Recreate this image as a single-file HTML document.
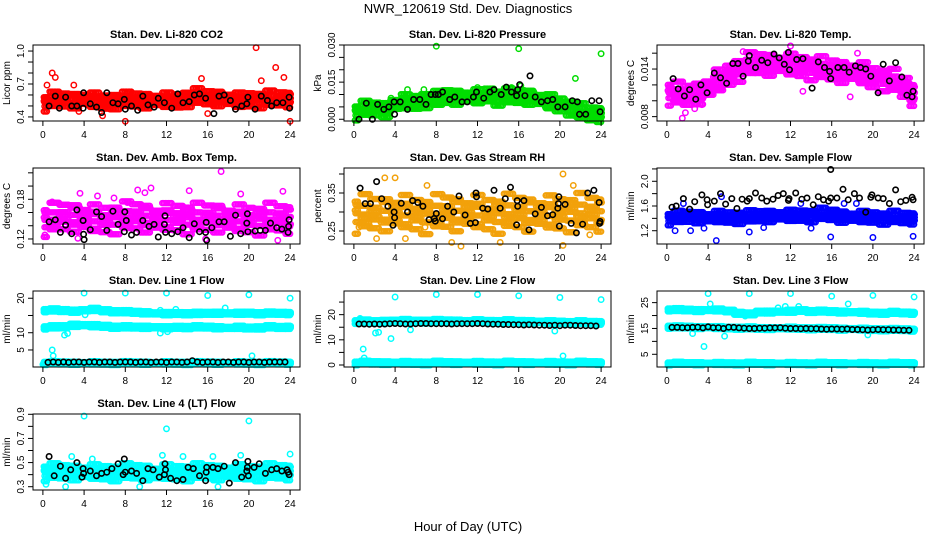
<!DOCTYPE html>
<html><head><meta charset="utf-8"><style>
body{margin:0;background:#fff;}
svg{display:block;font-family:"Liberation Sans",Arial,sans-serif;}
</style></head><body>
<svg id="chart" width="936" height="540" viewBox="0 0 936 540" xmlns="http://www.w3.org/2000/svg">
<rect width="936" height="540" fill="#fff"/>
<text x="468" y="13" text-anchor="middle" font-size="13">NWR_120619  Std. Dev. Diagnostics</text>
<text x="468" y="531" text-anchor="middle" font-size="13">Hour of Day (UTC)</text>
</svg>
<script>
// ---------- data ----------
const hourTicks = [0,4,8,12,16,20,24];
const hours = [0,1,2,3,4,5,6,7,8,9,10,11,12,13,14,15,16,17,18,19,20,21,22,23,24];

const co2Cloud = [0.53,0.55,0.55,0.55,0.56,0.55,0.54,0.55,0.55,0.55,0.55,0.55,0.55,0.55,0.57,0.58,0.57,0.57,0.56,0.55,0.56,0.56,0.56,0.56,0.56];
const co2Out = [[0.4,0.69],[0.9,0.8],[1.2,0.76],[3.0,0.69],[5.8,0.41],[8,0.36],[15.4,0.75],[20.7,1.03],[21.2,0.73],[22.6,0.85],[23.4,0.76],[24,0.36],[16,0.43],[3.5,0.45]];
const co2Black = [[0.6,0.5],[1.2,0.59],[1.6,0.48],[2.2,0.58],[2.8,0.5],[3.3,0.5],[3.9,0.48],[3.95,0.62],[4.6,0.52],[5.2,0.49],[5.7,0.44],[6.2,0.62],[6.8,0.53],[7.3,0.52],[7.9,0.56],[8,0.47],[8.6,0.5],[9.2,0.46],[9.7,0.59],[10.2,0.51],[10.8,0.49],[11.2,0.57],[11.8,0.53],[12.5,0.48],[13.1,0.61],[13.6,0.53],[14.2,0.54],[14.7,0.6],[15.2,0.61],[15.8,0.57],[16.6,0.43],[17.1,0.59],[17.6,0.6],[18.2,0.55],[18.7,0.47],[19.3,0.5],[19.8,0.52],[19.9,0.58],[20.6,0.47],[21.2,0.59],[21.8,0.55],[22.2,0.5],[22.7,0.53],[23.3,0.53],[23.9,0.58],[23.95,0.48]];

const presCloud = [0.003,0.004,0.004,0.004,0.006,0.007,0.007,0.008,0.008,0.009,0.009,0.009,0.009,0.010,0.009,0.009,0.009,0.009,0.008,0.007,0.006,0.005,0.003,0.002,0.002];
const presOut = [[8,0.0295],[16,0.0285],[24,0.0265],[21.5,0.0165],[12,0.0128],[15.3,0.0128],[16.2,0.0135],[5.2,0.012],[6.8,0.012],[3.6,0.0085]];
const presBlack = [[0.5,0.0],[1.2,0.0065],[1.8,0.0],[2.3,0.006],[2.9,0.004],[3.4,0.005],[3.9,0.007],[3.95,0.002],[4.5,0.007],[5.2,0.004],[5.8,0.008],[6.4,0.008],[7.0,0.006],[7.5,0.01],[7.9,0.01],[8.2,0.01],[8.6,0.011],[9.3,0.008],[9.8,0.009],[10.5,0.007],[11.0,0.007],[11.6,0.009],[11.9,0.011],[12.6,0.0085],[13.2,0.011],[13.6,0.012],[14.3,0.01],[14.8,0.013],[15.3,0.011],[15.8,0.0095],[15.9,0.012],[16.1,0.014],[16.6,0.0095],[17.1,0.0175],[17.6,0.009],[18.2,0.007],[18.8,0.0075],[19.3,0.008],[19.8,0.005],[20.5,0.005],[21.2,0.0075],[21.7,0.007],[21.9,0.002],[22.5,0.002],[23.1,0.0075],[23.8,0.0075],[23.9,0.003]];

const tempCloud = [0.0110,0.0108,0.0106,0.0110,0.0116,0.0125,0.0133,0.0140,0.0145,0.0146,0.0146,0.0146,0.0145,0.0144,0.0142,0.0140,0.0138,0.0137,0.0136,0.0134,0.0130,0.0128,0.0124,0.0116,0.0108];
const tempOut = [[1.5,0.0078],[12,0.0169],[7.4,0.0162],[18.5,0.016],[13.2,0.0112],[17.8,0.0105],[2.7,0.009],[3.4,0.0095],[1.8,0.0085]];
const tempBlack = [[0.6,0.0128],[1.1,0.0115],[1.7,0.0106],[2.2,0.0114],[2.8,0.0102],[3.3,0.012],[3.9,0.011],[4.6,0.0135],[5.2,0.0129],[5.8,0.0122],[6.4,0.0147],[6.9,0.0147],[7.4,0.0131],[7.9,0.015],[8.0,0.0157],[8.6,0.0142],[9.2,0.0151],[9.8,0.0148],[10.4,0.0159],[10.9,0.0154],[11.4,0.0146],[11.8,0.0161],[11.9,0.0139],[12.6,0.0152],[13.2,0.0153],[14.1,0.0116],[14.7,0.0149],[15.3,0.0142],[15.8,0.0137],[15.9,0.0128],[16.6,0.0142],[17.2,0.0142],[17.7,0.0136],[18.3,0.0144],[18.8,0.0142],[19.3,0.014],[19.8,0.0131],[20.5,0.011],[21.0,0.0146],[21.6,0.0125],[22.2,0.0148],[22.8,0.013],[23.3,0.0107],[23.8,0.0105],[23.9,0.0112]];

const ambCloud = [0.148,0.150,0.152,0.153,0.151,0.150,0.150,0.152,0.152,0.153,0.152,0.150,0.152,0.153,0.152,0.150,0.151,0.152,0.150,0.150,0.150,0.150,0.150,0.150,0.150];
const ambOut = [[17.3,0.222],[10.5,0.197],[9.2,0.194],[14.2,0.193],[23.3,0.192],[3.6,0.189],[19.2,0.188],[0.9,0.176],[1.7,0.172],[5.3,0.185],[8.2,0.175],[15.8,0.12],[22.8,0.118],[3.4,0.121],[0.2,0.126],[9.9,0.19],[6.9,0.182]];
const ambBlack = [[0.6,0.146],[1.2,0.149],[1.7,0.13],[2.2,0.141],[2.8,0.128],[3.3,0.164],[3.9,0.148],[3.95,0.127],[4.0,0.119],[4.6,0.134],[5.2,0.161],[5.7,0.154],[6.2,0.133],[6.8,0.162],[7.3,0.142],[7.9,0.131],[7.95,0.161],[8.1,0.148],[8.6,0.126],[9.1,0.13],[9.7,0.148],[10.3,0.139],[10.8,0.142],[11.2,0.123],[11.8,0.142],[11.85,0.155],[11.9,0.13],[12.5,0.128],[13.1,0.131],[13.6,0.137],[14.2,0.122],[14.7,0.143],[15.2,0.131],[15.8,0.13],[15.85,0.145],[15.9,0.118],[16.4,0.137],[17.1,0.146],[17.6,0.146],[18.2,0.124],[18.7,0.156],[19.2,0.128],[19.8,0.144],[19.85,0.158],[19.9,0.131],[20.6,0.132],[21.1,0.133],[21.6,0.133],[22.1,0.144],[22.7,0.137],[23.2,0.135],[23.8,0.13],[23.85,0.139],[23.9,0.149]];

const rhCloud = [0.295,0.295,0.293,0.296,0.297,0.298,0.296,0.294,0.295,0.297,0.296,0.296,0.298,0.296,0.295,0.296,0.296,0.295,0.296,0.297,0.298,0.299,0.298,0.296,0.295];
const rhOut = [[3,0.39],[4,0.39],[20.3,0.4],[21.3,0.37],[9.5,0.22],[10.4,0.21],[20.3,0.212],[14.2,0.22],[7.1,0.37],[0.5,0.26],[6.9,0.26],[2.2,0.23],[5.0,0.23],[22.9,0.24]];
const rhBlack = [[0.6,0.363],[1.1,0.322],[1.6,0.322],[2.2,0.38],[2.7,0.335],[3.3,0.315],[3.9,0.3],[3.95,0.285],[3.8,0.265],[4.6,0.323],[5.2,0.3],[5.7,0.33],[6.2,0.325],[6.7,0.315],[7.3,0.28],[7.8,0.283],[7.9,0.276],[8.0,0.296],[8.6,0.282],[9.1,0.315],[9.7,0.3],[10.2,0.342],[10.8,0.292],[11.3,0.27],[11.8,0.272],[11.85,0.35],[11.9,0.34],[12.5,0.31],[13.0,0.308],[13.6,0.357],[14.2,0.31],[14.7,0.335],[15.2,0.365],[15.8,0.266],[15.85,0.33],[15.9,0.315],[16.5,0.33],[17.0,0.253],[17.6,0.295],[18.2,0.312],[18.8,0.29],[19.3,0.293],[19.8,0.31],[19.85,0.322],[19.9,0.34],[19.95,0.263],[20.5,0.32],[21.1,0.27],[21.6,0.245],[22.2,0.268],[22.7,0.35],[23.3,0.357],[23.8,0.325],[23.85,0.27],[23.9,0.275]];

const flowCloud = [1.40,1.41,1.42,1.42,1.41,1.42,1.42,1.42,1.42,1.43,1.44,1.44,1.44,1.45,1.45,1.46,1.45,1.43,1.42,1.42,1.42,1.41,1.41,1.40,1.40];
const flowOut = [[4.8,1.04],[15.9,1.1],[20,1.09],[23.9,1.11],[0.8,1.2],[2.3,1.2],[8,1.18],[3.6,1.24],[5.3,1.75],[1.6,1.64],[17.2,1.64],[18.4,1.64],[13,1.64],[9.4,1.25],[14,1.24]];
const flowBlack = [[0.5,1.58],[0.9,1.6],[1.6,1.72],[2.2,1.55],[2.7,1.67],[3.4,1.78],[3.9,1.7],[3.95,1.62],[4.6,1.68],[5.2,1.8],[5.7,1.63],[6.3,1.72],[6.8,1.56],[7.3,1.71],[7.8,1.68],[8.0,1.72],[8.6,1.81],[9.2,1.73],[9.7,1.68],[10.3,1.71],[10.8,1.77],[11.3,1.8],[11.8,1.69],[11.85,1.72],[12.5,1.81],[13.1,1.71],[13.6,1.73],[14.2,1.62],[14.7,1.75],[15.2,1.7],[15.7,1.68],[15.9,1.73],[16.5,1.73],[17.1,1.87],[17.6,1.7],[18.2,1.8],[18.7,1.73],[19.3,1.5],[19.8,1.74],[19.9,1.78],[20.5,1.73],[21.0,1.72],[21.6,1.64],[22.2,1.86],[22.7,1.67],[23.2,1.69],[23.8,1.74],[23.9,1.7],[15.9,2.19]];

const l1High = [16.5,16.5,16.4,16.3,16.5,16.7,16.4,16.2,16.0,15.9,15.8,15.6,15.5,15.6,15.6,15.5,15.6,15.7,15.6,15.6,15.7,15.6,15.6,15.6,15.6];
const l1Mid = [11.5,11.6,11.7,12.2,12.2,12.0,11.9,11.7,11.6,11.6,11.6,11.6,11.4,11.6,11.6,11.6,11.6,11.5,11.4,11.5,11.4,11.5,11.6,11.5,11.6];
const l1Low = [1.2,1.2,1.2,1.2,1.2,1.2,1.2,1.2,1.2,1.2,1.2,1.2,1.2,1.2,1.2,1.2,1.2,1.2,1.2,1.2,1.2,1.2,1.2,1.2,1.2];
const l1Out = [[4,21.5],[8,21.5],[12,21.5],[16,20.8],[20,21],[24,20],[0.9,5],[1.0,3.3],[2.1,9.3],[2.4,9.8],[20.3,3.3],[11.4,9.9],[12.1,10.3],[17.7,17.2],[0.0,0.8],[4.1,15.2],[11.4,16.5],[12.9,16.8]];
const l1Black = [1.4,1.5,1.4,1.5,1.4,1.5,1.5,1.4,1.5,1.5,1.4,1.5,1.5,1.4,1.5,1.5,1.5,1.4,1.5,1.5,1.4,1.5,1.5,1.4,1.5,1.5,1.4,1.5,1.9,1.5,1.4,1.5,1.5,1.4,1.5,1.5,1.4,1.5,1.5,1.4,1.5,1.5,1.4,1.5,1.5,1.5,1.5];

const l2High = [17.2,17.2,17.1,17.3,17.5,17.5,17.4,17.4,17.4,17.4,17.4,17.4,17.4,17.3,17.3,17.3,17.2,17.2,17.1,17.0,17.0,16.9,16.9,16.8,16.8];
const l2Low = [0.8,0.8,0.8,0.8,0.8,0.8,0.8,0.8,0.8,0.8,0.8,0.8,0.8,0.8,0.8,0.8,0.8,0.8,0.8,0.8,0.8,0.8,0.8,0.8,0.8];
const l2Out = [[4,27],[8,28],[12,28],[16,27.5],[20,26.8],[24,26],[0.9,6.3],[1,2.8],[2.1,12.7],[2.4,13],[3.6,10.5],[5.5,14],[19.5,13.5],[20.3,3.6],[0.6,18.5]];
const l2Black = [16.3,16.3,16.2,16.3,16.2,16.3,16.4,16.5,16.4,16.3,16.3,16.4,16.5,16.5,16.4,16.4,16.4,16.4,16.3,16.4,16.4,16.4,16.4,16.5,16.4,16.3,16.2,16.2,16.1,16.1,16.0,16.0,15.9,16.0,15.9,15.8,15.8,15.7,15.8,15.6,15.8,15.8,15.7,15.6,15.6,15.6,15.5];

const l3High = [22.3,22.2,22.1,22.0,22.1,22.1,21.8,21.0,20.5,21.3,21.4,21.5,21.6,22.0,21.7,21.6,21.5,21.4,21.3,21.2,21.0,21.0,21.1,21.0,20.9];
const l3Mid = [15.6,15.5,15.5,15.4,15.5,15.3,15.2,15.2,15.1,15.0,15.0,15.1,15.1,15.0,15.0,14.9,14.9,14.8,14.8,14.7,14.6,14.6,14.5,14.5,14.4];
const l3Low = [1.4,1.4,1.4,1.4,1.4,1.4,1.4,1.4,1.4,1.4,1.4,1.4,1.4,1.4,1.4,1.4,1.4,1.4,1.4,1.4,1.4,1.4,1.4,1.4,1.4];
const l3Out = [[4,28.5],[8,28.5],[12,28.5],[16,27.5],[20,27.8],[24,27.2],[3.6,8],[5.6,12],[2.5,13],[19.5,12.5],[4.2,24.5],[17.6,24.5],[10.8,23],[11.5,23.5],[12.8,23.5],[7.6,19.8]];
const l3Black = [15.4,15.4,15.3,15.3,15.4,15.5,15.2,15.6,15.3,15.3,15.0,15.5,15.4,15.2,15.1,15.0,15.0,15.1,15.1,15.2,15.2,15.3,15.1,15.0,15.0,14.9,15.0,14.9,14.9,14.8,14.7,14.8,14.8,14.7,14.8,14.6,14.6,14.5,14.4,14.5,14.6,14.5,14.5,14.4,14.4,14.3,14.3];

const l4Cloud = [0.42,0.42,0.42,0.42,0.42,0.42,0.42,0.42,0.42,0.42,0.42,0.41,0.42,0.42,0.42,0.42,0.42,0.42,0.42,0.42,0.42,0.42,0.42,0.42,0.42];
const l4Out = [[4,0.885],[12,0.78],[20,0.845],[24,0.57],[11.6,0.56],[2.8,0.55],[19.2,0.56],[0.3,0.32],[2.2,0.3],[17,0.3],[9.4,0.3],[13.6,0.55],[16.5,0.55],[4.8,0.53]];
const l4Black = [[0.6,0.55],[1.1,0.39],[1.7,0.47],[2.2,0.37],[2.7,0.44],[3.3,0.5],[3.9,0.45],[3.95,0.41],[3.8,0.38],[4.6,0.43],[5.2,0.39],[5.7,0.41],[6.2,0.42],[6.7,0.45],[7.3,0.49],[7.8,0.4],[7.9,0.53],[8.0,0.42],[8.6,0.43],[9.1,0.41],[9.7,0.35],[10.2,0.45],[10.7,0.44],[11.3,0.38],[11.8,0.4],[11.85,0.49],[11.9,0.44],[12.4,0.37],[13.0,0.35],[13.6,0.36],[14.1,0.46],[14.6,0.45],[15.2,0.39],[15.8,0.35],[15.85,0.42],[15.9,0.46],[16.5,0.46],[17.0,0.45],[17.6,0.47],[18.1,0.33],[18.7,0.5],[19.3,0.38],[19.8,0.43],[19.85,0.46],[19.9,0.51],[19.95,0.39],[20.5,0.46],[21.0,0.49],[21.6,0.41],[22.2,0.44],[22.7,0.45],[23.2,0.43],[23.7,0.44],[23.8,0.42],[23.9,0.4]];

// ---------- drawing ----------
const NS = "http://www.w3.org/2000/svg";
const svg = document.getElementById('chart');
function mk(tag, attrs, parent){ const e=document.createElementNS(NS,tag); for(const k in attrs) e.setAttribute(k,attrs[k]); (parent||svg).appendChild(e); return e; }

const colX = [33,344,657], rowY = [45,168,291,414], BW = 267, BH = 76;
const panels = [
 {name:'co2',title:'Stan. Dev. Li-820 CO2',ylab:'Licor ppm',col:0,row:0,ymin:0.363,ymax:1.055,ticks:[0.4,0.5,0.6,0.7,0.8,0.9,1.0],labels:['0.4','0.7','1.0'],lv:[0.4,0.7,1.0],color:'#ff0000',clouds:[co2Cloud],spread:0.065,out:co2Out,black:co2Black},
 {name:'pressure',title:'Stan. Dev. Li-820 Pressure',ylab:'kPa',col:1,row:0,ymin:-0.0007,ymax:0.0300,ticks:[0,0.005,0.01,0.015,0.02,0.025,0.03],labels:['0.000','0.015','0.030'],lv:[0,0.015,0.03],color:'#00dd00',clouds:[presCloud],spread:0.0028,out:presOut,black:presBlack},
 {name:'li820-temp',title:'Stan. Dev. Li-820 Temp.',ylab:'degrees C',col:2,row:0,ymin:0.00745,ymax:0.01703,ticks:[0.008,0.010,0.012,0.014,0.016],labels:['0.008','0.014'],lv:[0.008,0.014],color:'#ff00ff',clouds:[tempCloud],spread:0.0013,out:tempOut,black:tempBlack},
 {name:'amb-box-temp',title:'Stan. Dev. Amb. Box Temp.',ylab:'degrees C',col:0,row:1,ymin:0.1124,ymax:0.2273,ticks:[0.12,0.14,0.16,0.18,0.20,0.22],labels:['0.12','0.18'],lv:[0.12,0.18],color:'#ff00ff',clouds:[ambCloud],spread:0.02,out:ambOut,black:ambBlack},
 {name:'gas-stream-rh',title:'Stan. Dev. Gas Stream RH',ylab:'percent',col:1,row:1,ymin:0.2158,ymax:0.4158,ticks:[0.25,0.30,0.35,0.40],labels:['0.25','0.35'],lv:[0.25,0.35],color:'#f2a10a',clouds:[rhCloud],spread:0.042,out:rhOut,black:rhBlack},
 {name:'sample-flow',title:'Stan. Dev. Sample Flow',ylab:'ml/min',col:2,row:1,ymin:0.985,ymax:2.215,ticks:[1.2,1.4,1.6,1.8,2.0,2.2],labels:['1.2','1.6','2.0'],lv:[1.2,1.6,2.0],color:'#0000ff',clouds:[flowCloud],spread:0.09,out:flowOut,black:flowBlack},
 {name:'line1-flow',title:'Stan. Dev. Line 1 Flow',ylab:'ml/min',col:0,row:2,ymin:0.06,ymax:22.1,ticks:[5,10,15,20],labels:['5','10','20'],lv:[5,10,20],color:'#00ffff',clouds:[l1High,l1Mid,l1Low],spread:0.45,out:l1Out,blackSeries:l1Black},
 {name:'line2-flow',title:'Stan. Dev. Line 2 Flow',ylab:'ml/min',col:1,row:2,ymin:-0.8,ymax:29.4,ticks:[0,5,10,15,20,25],labels:['0','10','20'],lv:[0,10,20],color:'#00ffff',clouds:[l2High,l2Low],spread:0.7,out:l2Out,blackSeries:l2Black},
 {name:'line3-flow',title:'Stan. Dev. Line 3 Flow',ylab:'ml/min',col:2,row:2,ymin:0.08,ymax:29.5,ticks:[5,10,15,20,25],labels:['5','15','25'],lv:[5,15,25],color:'#00ffff',clouds:[l3High,l3Mid,l3Low],spread:0.55,out:l3Out,blackSeries:l3Black},
 {name:'line4-flow',title:'Stan. Dev. Line 4 (LT) Flow',ylab:'ml/min',col:0,row:3,ymin:0.2727,ymax:0.9025,ticks:[0.3,0.4,0.5,0.6,0.7,0.8,0.9],labels:['0.3','0.5','0.7','0.9'],lv:[0.3,0.5,0.7,0.9],color:'#00ffff',clouds:[l4Cloud],spread:0.06,out:l4Out,black:l4Black}
];

const dxs=[-0.45,-0.3,-0.15,0,0.15,0.3,0.45];
const fs=[-1,-0.6,-0.2,0.2,0.6,1];

panels.forEach(p=>{
  const L=colX[p.col], T=rowY[p.row];
  const xS = h => L + (h+0.96)/25.92*BW;
  const yS = v => T + BH - (v-p.ymin)/(p.ymax-p.ymin)*BH;
  const g = mk('g',{});
  
  
  const t = mk('text',{x:L+BW/2,y:T-7,'text-anchor':'middle','font-size':'11','font-weight':'bold'},g);
  t.textContent=p.title;
  
  
  const cg = mk('g',{fill:'none',stroke:p.color,'stroke-width':'1.5'},g);
  
  
  p.clouds.forEach(arr=>{
    arr.forEach((c,i)=>{
      const h=hours[i];
      dxs.forEach((dx,j)=>{
        const x=h+dx+(((i*3+j*5)%5)-2)*0.03; if(x<0||x>24) return;
        fs.forEach((f,k)=>{
          const ff = f*0.85 + (((j*7+k*3+i*5)%7)-3)*0.13;
          mk('circle',{cx:xS(x+((k%2)?0.07:0)).toFixed(1),cy:yS(c+p.spread*ff).toFixed(1),r:'2.5'},cg);
        });
      });
    });
  });
  const og = mk('g',{fill:'none',stroke:p.color,'stroke-width':'1.5'},g);
  
  
  p.out.forEach(d=>mk('circle',{cx:xS(d[0]).toFixed(1),cy:yS(d[1]).toFixed(1),r:'2.7'},og));
  const bg = mk('g',{fill:'none',stroke:'#000','stroke-width':'1.6'},g);
  
  
  if(p.black) p.black.forEach(d=>mk('circle',{cx:xS(d[0]).toFixed(1),cy:yS(d[1]).toFixed(1),r:'2.7'},bg));
  if(p.blackSeries) p.blackSeries.forEach((v,i)=>mk('circle',{cx:xS(0.5+i*0.5).toFixed(1),cy:yS(v).toFixed(1),r:'2.7'},bg));
  const box = mk('rect',{x:L,y:T,width:BW,height:BH,fill:'none',stroke:'#000','stroke-width':'1'},g);
  
  
  const xa = mk('g',{},g);
  
  
  hourTicks.forEach(h=>{
    mk('line',{x1:xS(h),x2:xS(h),y1:T+BH,y2:T+BH+5,stroke:'#000'},xa);
    const lt=mk('text',{x:xS(h),y:T+BH+17,'text-anchor':'middle','font-size':'10'},xa);
    lt.textContent=h;
  });
  const ya = mk('g',{},g);
  
  
  p.ticks.forEach(v=>mk('line',{x1:L-5,x2:L,y1:yS(v),y2:yS(v),stroke:'#000'},ya));
  p.lv.forEach((v,i)=>{
    const yy=yS(v);
    const lt=mk('text',{x:L-9,y:yy,'text-anchor':'middle','font-size':'10',transform:`rotate(-90 ${L-9} ${yy})`},ya);
    lt.textContent=p.labels[i];
  });
  const yl=mk('text',{x:L-23,y:T+BH/2,'text-anchor':'middle','font-size':'10',transform:`rotate(-90 ${L-23} ${T+BH/2})`},g);
  yl.textContent=p.ylab;
  
  
});
</script>
</body></html>
